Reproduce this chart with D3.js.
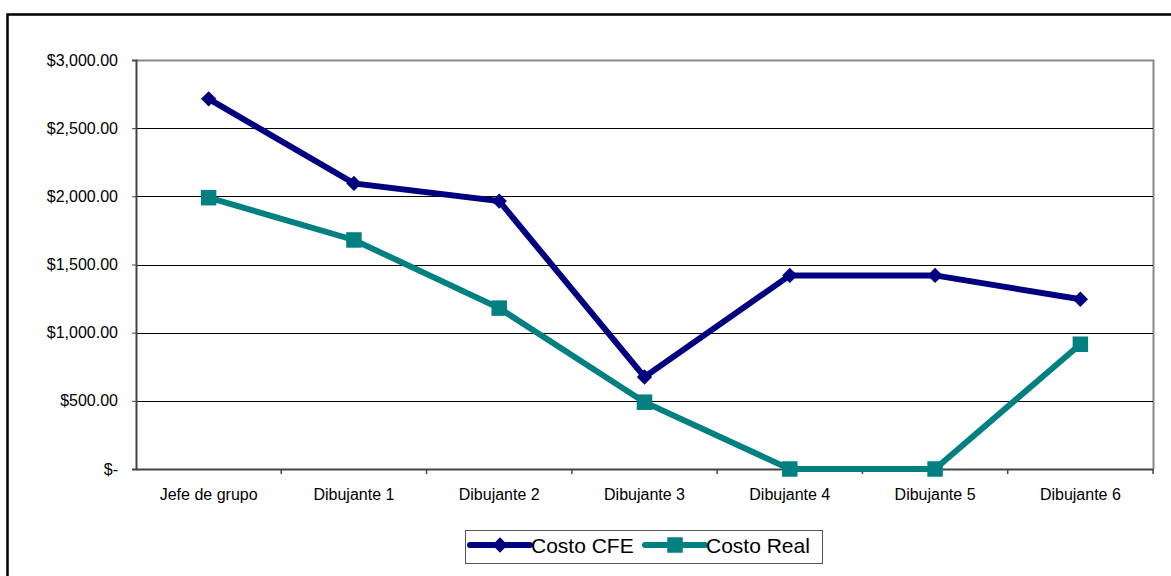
<!DOCTYPE html>
<html>
<head>
<meta charset="utf-8">
<script src="https://cdn.jsdelivr.net/npm/d3@7"></script>
<style>
  body { margin: 0; background: #fff; }
  svg { display: block; font-family: "Liberation Sans", Arial, sans-serif; }
  .axis text { font-size: 16px; font-family: "Liberation Sans", Arial, sans-serif; fill: #000; }
</style>
</head>
<body>
<svg id="chart" width="1171" height="576"></svg>
<script>
const categories = ["Jefe de grupo", "Dibujante 1", "Dibujante 2", "Dibujante 3", "Dibujante 4", "Dibujante 5", "Dibujante 6"];
const costoCFE = [2715, 2095, 1965, 675, 1420, 1420, 1245];
const costoReal = [1990, 1680, 1180, 490, 0, 0, 915];
const yTicks = [0, 500, 1000, 1500, 2000, 2500, 3000];
const seriesNames = ["Costo CFE", "Costo Real"];

const svg = d3.select("#chart");
const plot = { left: 136, top: 60, right: 1153, bottom: 469 };

// outer chart border (runs past the window on the right and bottom)
svg.append("rect")
  .attr("x", 7.5).attr("y", 14.5)
  .attr("width", 1170).attr("height", 570)
  .attr("fill", "none").attr("stroke", "#000").attr("stroke-width", 2.5);

const x = d3.scaleBand().domain(categories).range([plot.left, plot.right]);
const y = d3.scaleLinear().domain([0, 3000]).range([plot.bottom, plot.top]);

const fmt = d => d === 0 ? "$-" : "$" + d3.format(",.2f")(d);

// plot area border, gray on top and right
svg.append("path")
  .attr("d", `M${plot.left},${plot.top + 0.5}H${plot.right + 0.5}V${plot.bottom}`)
  .attr("fill", "none").attr("stroke", "#888").attr("stroke-width", 2);

// gridlines
svg.append("g")
  .selectAll("line")
  .data(yTicks.filter(d => d > 0 && d < 3000))
  .join("line")
  .attr("x1", plot.left).attr("x2", plot.right)
  .attr("y1", d => Math.round(y(d)) + 0.5).attr("y2", d => Math.round(y(d)) + 0.5)
  .attr("stroke", "#000").attr("stroke-width", 1);

// y axis
const yAxis = svg.append("g")
  .attr("class", "axis")
  .attr("transform", `translate(${plot.left},0)`)
  .call(d3.axisLeft(y).tickValues(yTicks).tickFormat(fmt).tickSize(4).tickPadding(14));
yAxis.select(".domain").attr("stroke", "#444").attr("stroke-width", 2);
yAxis.selectAll(".tick line").attr("stroke", "#444");

// x axis with ticks at category boundaries
const xAxis = svg.append("g")
  .attr("class", "axis")
  .attr("transform", `translate(0,${plot.bottom})`)
  .call(d3.axisBottom(x).tickSize(0).tickPadding(20));
xAxis.select(".domain").attr("stroke", "#444").attr("stroke-width", 2);
xAxis.selectAll("line.bound")
  .data(categories.map((c, i) => plot.left + x.step() * (i + 1)))
  .join("line")
  .attr("class", "bound")
  .attr("x1", d => d).attr("x2", d => d)
  .attr("y1", 0).attr("y2", 5)
  .attr("stroke", "#444").attr("stroke-width", 1.5);

const cx = c => x(c) + x.bandwidth() / 2;
const line = d3.line().x((d, i) => cx(categories[i])).y(d => y(d));

const colors = ["#000080", "#008080"];
const diamond = d3.symbol().type(d3.symbolDiamond2).size(150);
const square = d3.symbol().type(d3.symbolSquare).size(240);

[costoCFE, costoReal].forEach((vals, k) => {
  svg.append("path")
    .datum(vals)
    .attr("d", line)
    .attr("fill", "none")
    .attr("stroke", colors[k])
    .attr("stroke-width", 6)
    .attr("stroke-linejoin", "miter");
  svg.append("g")
    .selectAll("path")
    .data(vals)
    .join("path")
    .attr("transform", (d, i) => `translate(${cx(categories[i])},${y(d)})`)
    .attr("d", k === 0 ? diamond : square)
    .attr("fill", colors[k]);
});

// legend
const legend = svg.append("g");
legend.append("rect")
  .attr("x", 465.5).attr("y", 530.5).attr("width", 357).attr("height", 33)
  .attr("fill", "#fff").attr("stroke", "#555").attr("stroke-width", 1);

const legendItems = [{ x0: 470, tx: 531 }, { x0: 645, tx: 706 }];
legendItems.forEach((it, k) => {
  legend.append("line")
    .attr("x1", it.x0).attr("x2", it.x0 + 60)
    .attr("y1", 545).attr("y2", 545)
    .attr("stroke", colors[k]).attr("stroke-width", 6).attr("stroke-linecap", "round");
  legend.append("path")
    .attr("transform", `translate(${it.x0 + 30},545)`)
    .attr("d", k === 0 ? diamond : square)
    .attr("fill", colors[k]);
  legend.append("text")
    .attr("x", it.tx).attr("y", 553)
    .attr("font-size", 21)
    .text(seriesNames[k]);
});
</script>
</body>
</html>
